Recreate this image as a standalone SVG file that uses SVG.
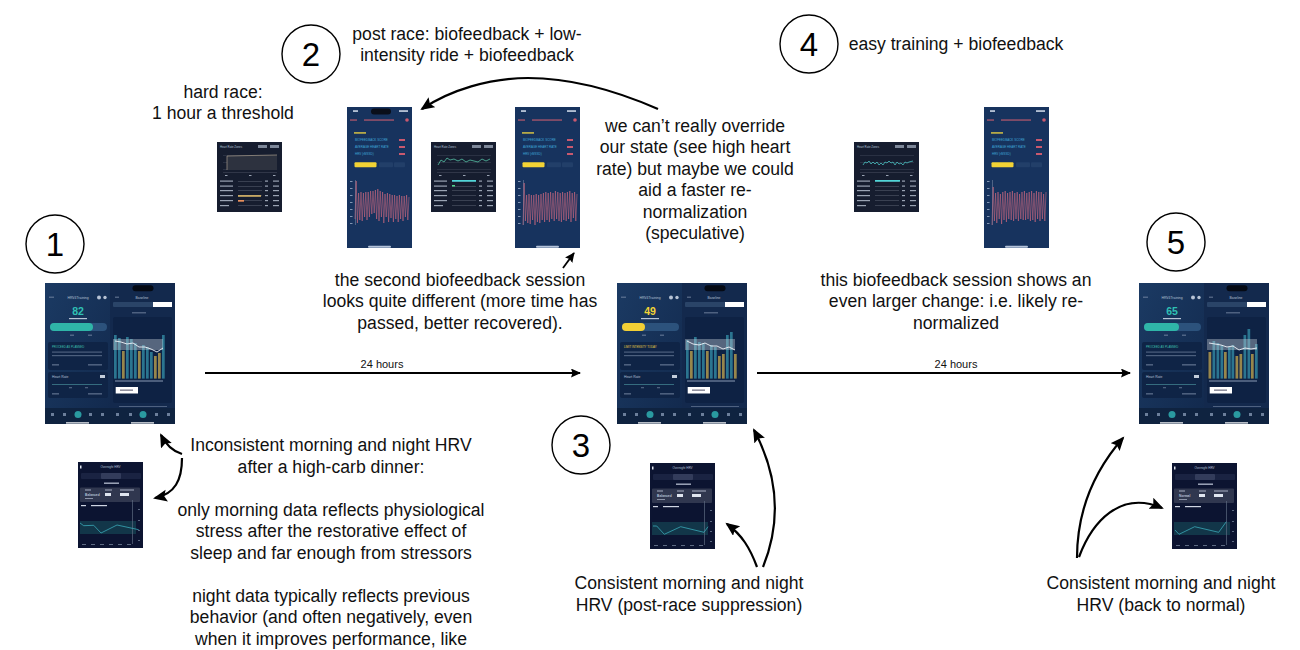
<svg xmlns="http://www.w3.org/2000/svg" width="1300" height="650" viewBox="0 0 1300 650">
<style>
text{font-family:"Liberation Sans",Arial,sans-serif}
.t{font-size:17.6px;fill:#111;text-anchor:middle}
.l{font-size:11px;fill:#111;text-anchor:middle}
.n{font-size:33px;fill:#000;text-anchor:middle}
.c{fill:#fff;stroke:#000;stroke-width:1.4}
.a{fill:none;stroke:#000;stroke-width:2.2;marker-end:url(#h)}
.a2{fill:none;stroke:#000;stroke-width:1.8;marker-end:url(#hs)}
.s{font-size:3.4px;fill:#b4c0d4}
.w{fill:none;stroke:#d0687f;stroke-width:.55;stroke-linejoin:round}
.g{fill:#7f90ab;opacity:.55}
.big{font-size:10.5px;font-weight:700;text-anchor:middle}
.te{fill:#2b7590}
.go{fill:#97864c}
</style>
<defs>
<marker id="h" markerUnits="userSpaceOnUse" markerWidth="16" markerHeight="14" refX="12" refY="6" orient="auto"><path d="M0 0L14 6L0 12L2.500 6z"/></marker>
<marker id="hs" markerUnits="userSpaceOnUse" markerWidth="12" markerHeight="10" refX="9" refY="4.500" orient="auto"><path d="M0 0L10 4.500L0 9L1.500 4.500z"/></marker>
<linearGradient id="dl" x1="0" y1="0" x2="1" y2="1"><stop offset="0" stop-color="#1b3a63"/><stop offset="1" stop-color="#12294d"/></linearGradient>
<g id="dash">
<rect width="130" height="141" fill="#142c52"/>
<rect width="65" height="141" fill="url(#dl)"/>
<rect x="65" width="65" height="141" fill="#13294d"/>
<rect x="4" y="13.500" width="5" height="1.500" class="g"/>
<text x="33" y="15.500" class="s" text-anchor="middle">HRV4Training</text>
<circle cx="54" cy="14.500" r="2" fill="#b8c4d6"/><circle cx="60" cy="14.500" r="1.700" fill="#b8c4d6"/>
<rect x="5" y="40" width="57" height="8" rx="4" fill="#2c527c"/>
<rect x="25" y="51.500" width="4" height="1.500" class="g"/><rect x="43" y="51.500" width="4" height="1.500" class="g"/>
<rect x="3" y="59" width="60" height="28" rx="2" fill="#0f2446"/>
<rect x="7" y="68.500" width="50" height="1.200" class="g"/><rect x="7" y="72" width="50" height="1.200" class="g"/>
<rect x="7" y="81" width="7" height="1.600" class="g"/><rect x="43" y="81" width="14" height="1.600" class="g"/>
<rect x="3" y="89" width="60" height="26" rx="2" fill="#0f2446"/>
<text x="7" y="95" class="s">Heart Rate</text>
<rect x="55" y="92" width="5" height="3" fill="#c3cddb"/>
<rect x="7" y="101" width="50" height=".8" fill="#3f7f8e"/>
<rect x="24" y="104" width="3" height="1.300" class="g"/><rect x="40" y="104" width="3" height="1.300" class="g"/>
<rect x="7" y="110" width="7" height="1.600" class="g"/><rect x="43" y="110" width="14" height="1.600" class="g"/>
<rect x="70" y="13.500" width="4" height="1.500" class="g"/>
<text x="97" y="15.500" class="s" text-anchor="middle">Baseline</text>
<rect x="68" y="19" width="59" height="5" rx="1" fill="#2a4468"/>
<rect x="108" y="19" width="19" height="5" fill="#fff"/>
<rect x="87" y="29" width="14" height="1.500" class="g"/>
<rect x="68" y="34" width="59" height="86" rx="2" fill="#0e2244"/>
<rect x="87.500" y="2.300" width="21" height="6" rx="3" fill="#050a14"/>
<rect x="70" y="97" width="48" height="2" class="g" opacity=".5"/>
<rect x="70.700" y="104" width="22.300" height="6.500" fill="#fff"/>
<rect x="75" y="106.500" width="13" height="1.300" fill="#778"/>
<rect x="74" y="123" width="48" height="1" class="g" opacity=".4"/>
<rect y="125" width="130" height="16" fill="#0f2340"/>
<g fill="#6c7f9b"><rect x="6" y="130" width="3" height="3"/><rect x="18" y="130" width="3" height="3"/><rect x="44" y="130" width="3" height="3"/><rect x="56" y="130" width="3" height="3"/><rect x="71" y="130" width="3" height="3"/><rect x="84" y="130" width="3" height="3"/><rect x="110" y="130" width="3" height="3"/><rect x="122" y="130" width="3" height="3"/></g>
<circle cx="33" cy="131.500" r="3.500" fill="#2a9aa0"/><circle cx="98" cy="131.500" r="3.500" fill="#2a9aa0"/>
<rect x="21" y="139.300" width="23" height="1.200" fill="#fff"/><rect x="86" y="139.300" width="23" height="1.200" fill="#fff"/>
</g>
<g id="bio">
<rect width="65" height="141" fill="#17335e"/>
<rect x="6" y="3.300" width="5" height="1.500" fill="#d8e0ee"/>
<rect x="52" y="3.300" width="9" height="1.500" fill="#d8e0ee"/>
<rect x="3" y="12.300" width="7" height="1.500" fill="#b9596e" opacity=".8"/>
<rect x="17" y="12.300" width="30" height="1.500" fill="#b9596e" opacity=".8"/>
<circle cx="60" cy="13" r="1.800" fill="#c9596f"/>
<rect x="7" y="25" width="12" height="1.800" fill="#b5a848"/>
<text x="8" y="34" class="s" style="font-size:3px;fill:#3fa7d8">BIOFEEDBACK SCORE</text>
<text x="8" y="41" class="s" style="font-size:3px;fill:#3fa7d8">AVERAGE HEART RATE</text>
<text x="8" y="48" class="s" style="font-size:3px;fill:#3fa7d8">HRV (rMSSD)</text>
<g fill="#c9596f"><rect x="52" y="32" width="6" height="2"/><rect x="52" y="39" width="6" height="2"/><rect x="52" y="46" width="6" height="2"/></g>
<rect x="7.500" y="55.300" width="22" height="5" rx="1" fill="#f2d335"/>
<rect x="32" y="55.300" width="14" height="5" rx="1" fill="#223f69"/><rect x="47" y="55.300" width="11" height="5" rx="1" fill="#223f69"/>
<g fill="#8396b3"><rect x="3" y="74" width="2.500" height="1"/><rect x="3" y="81" width="2.500" height="1"/><rect x="3" y="88" width="2.500" height="1"/><rect x="3" y="95" width="2.500" height="1"/><rect x="3" y="102" width="2.500" height="1"/><rect x="3" y="109" width="2.500" height="1"/><rect x="3" y="116" width="2.500" height="1"/></g>
<rect x="8" y="73" width=".6" height="45" fill="#7284a1"/>
<rect x="21" y="138.700" width="23" height="2" rx="1" fill="#b4c3da"/>
</g>
<g id="hr">
<rect width="65" height="70" fill="#161d2f"/>
<text x="3" y="6" class="s" style="font-size:2.800px">Heart Rate Zones</text>
<rect x="41" y="3" width="9" height="3" fill="#7d8799"/><rect x="53" y="3" width="9" height="3" fill="#7d8799"/>
<g fill="#4a5163"><rect x="6" y="13" width="54" height=".4"/><rect x="6" y="20" width="54" height=".4"/><rect x="6" y="27" width="54" height=".4"/><rect x="6" y="30" width="54" height=".5"/></g>
<g fill="#9aa3b3"><rect x="8" y="33" width="2.500" height="1"/><rect x="32" y="33" width="2.500" height="1"/><rect x="56" y="33" width="2.500" height="1"/></g>
<g fill="#5c6475"><rect x="21" y="39" width="24" height=".5"/><rect x="21" y="44" width="24" height=".5"/><rect x="21" y="48.500" width="24" height=".5"/><rect x="21" y="53.500" width="24" height=".5"/><rect x="21" y="58.500" width="24" height=".5"/><rect x="21" y="63.500" width="24" height=".5"/></g>
<g fill="#9aa3b3"><rect x="3" y="38.500" width="13" height="1.200"/><rect x="3" y="43.500" width="13" height="1.200"/><rect x="3" y="48" width="13" height="1.200"/><rect x="3" y="53" width="13" height="1.200"/><rect x="3" y="58" width="13" height="1.200"/><rect x="3" y="63" width="9" height="1.200"/>
<rect x="48" y="38.500" width="3" height="1.200"/><rect x="48" y="43.500" width="3" height="1.200"/><rect x="48" y="48" width="3" height="1.200"/><rect x="48" y="53" width="3" height="1.200"/><rect x="48" y="58" width="3" height="1.200"/><rect x="48" y="63" width="3" height="1.200"/>
<rect x="56" y="38.500" width="6" height="1.200"/><rect x="56" y="43.500" width="6" height="1.200"/><rect x="56" y="48" width="6" height="1.200"/><rect x="56" y="53" width="6" height="1.200"/><rect x="56" y="58" width="6" height="1.200"/><rect x="56" y="63" width="6" height="1.200"/></g>
</g>
<g id="ov">
<rect width="65" height="86" fill="#0c1431"/>
<text x="32.500" y="6" class="s" text-anchor="middle" style="font-size:3px">Overnight HRV</text>
<rect x="2" y="3.500" width="1.500" height="3" fill="#dfe5ef"/>
<rect x="3" y="11" width="60" height="6" rx="1" fill="#1a2342"/>
<rect x="23" y="11" width="20" height="6" rx="1" fill="#333c5b"/>
<rect x="26" y="20.500" width="15" height="1.400" fill="#a8b0c4"/>
<rect x="2" y="25.500" width="60" height="14.500" rx="1" fill="#30374f"/>
<rect x="7" y="27.500" width="6" height="1" fill="#a8b0c4"/><rect x="27" y="27.500" width="7" height="1" fill="#a8b0c4"/><rect x="42" y="27.500" width="14" height="1" fill="#a8b0c4"/>
<rect x="27" y="31" width="6" height="3" fill="#dfe5ef"/><rect x="42" y="31" width="9" height="3" fill="#dfe5ef"/>
<rect x="7" y="36" width="8" height="1" fill="#8b93a8"/>
<rect x="3" y="43" width="5" height="1.200" fill="#cfd5e2"/><rect x="13" y="43" width="16" height="1.200" fill="#cfd5e2"/>
<rect x="2" y="59" width="56" height="13" fill="#123649"/>
<rect x="54" y="38" width=".7" height="44" fill="#5d6a82"/>
<g fill="#5d6a82"><rect x="60" y="47" width="2" height="1"/><rect x="60" y="58" width="2" height="1"/><rect x="60" y="68" width="2" height="1"/><rect x="60" y="78" width="2" height="1"/>
<rect x="4" y="82" width="4" height="1"/><rect x="13" y="82" width="4" height="1"/><rect x="22" y="82" width="4" height="1"/><rect x="31" y="82" width="4" height="1"/><rect x="40" y="82" width="4" height="1"/><rect x="49" y="82" width="4" height="1"/></g>
</g>
</defs>
<rect width="1300" height="650" fill="#fff"/>

<g id="connectors">
<path class="a2" d="M205 373H580"/>
<path class="a2" d="M757 373H1130"/>
<path class="a" d="M658 109C610 88 565 78 528 78C490 78 450 90 422 109"/>
<path class="a2" d="M563 268L574 253"/>
<path class="a" d="M182 454C172 451 166 445 161 435"/>
<path class="a" d="M182 458C182 480 175 494 155 498"/>
<path class="a" d="M763 567C782 520 778 475 754 430"/>
<path class="a" d="M757 567C750 548 742 535 727 524"/>
<path class="a" d="M1077 558C1077 510 1095 470 1123 438"/>
<path class="a" d="M1079 557C1092 522 1120 490 1162 508"/>
<text class="l" x="382" y="368">24 hours</text>
<text class="l" x="956" y="368">24 hours</text>
</g>

<g id="node-1"><circle class="c" cx="55" cy="244" r="29"/><text class="n" x="55" y="256">1</text></g>
<g id="node-2"><circle class="c" cx="311" cy="54" r="29"/><text class="n" x="311" y="66">2</text></g>
<g id="node-3"><circle class="c" cx="581" cy="445" r="29"/><text class="n" x="581" y="457">3</text></g>
<g id="node-4"><circle class="c" cx="809" cy="44" r="29"/><text class="n" x="809" y="56">4</text></g>
<g id="node-5"><circle class="c" cx="1176" cy="242" r="29"/><text class="n" x="1176" y="254">5</text></g>

<g id="dash-1" transform="translate(45 283)">
<use href="#dash"/>
<text x="33" y="32" class="big" fill="#2fc0b4">82</text>
<rect x="24" y="35" width="18" height="1.200" fill="#b8c4d6"/>
<rect x="5" y="40" width="43" height="8" rx="4" fill="#2fb5a8"/>
<text x="7" y="65" class="s" style="font-size:2.800px;fill:#3fc0b0">PROCEED AS PLANNED</text>
<g class="te"><rect x="69" y="52" width="2.700" height="43.600"/><rect x="73" y="55" width="2.700" height="40.600"/><rect x="81" y="54" width="2.700" height="41.600"/><rect x="85" y="56" width="2.700" height="39.600"/><rect x="89" y="60" width="2.700" height="35.600"/><rect x="97" y="62" width="2.700" height="33.600"/><rect x="101" y="64" width="2.700" height="31.600"/><rect x="105" y="69" width="2.700" height="26.600"/><rect x="117" y="52" width="2.700" height="43.600"/></g>
<g class="go"><rect x="77" y="68" width="2.700" height="27.600"/><rect x="93" y="68" width="2.700" height="27.600"/><rect x="109" y="73" width="2.700" height="22.600"/><rect x="113" y="70" width="2.700" height="25.600"/></g>
<rect x="68" y="56" width="50" height="11" fill="#c4ccd6" opacity=".4"/>
<path d="M70 58L76 59L82 61L88 60L94 64L100 64L106 66L112 69L118 65" fill="none" stroke="#eef2f7" stroke-width=".9"/>
</g>

<g id="dash-3" transform="translate(617 283)">
<use href="#dash"/>
<text x="33" y="32" class="big" fill="#f2d335">49</text>
<rect x="24" y="35" width="18" height="1.200" fill="#b8c4d6"/>
<rect x="5" y="40" width="23" height="8" rx="4" fill="#f2cf35"/>
<text x="7" y="65" class="s" style="font-size:2.800px;fill:#e7cf45">LIMIT INTENSITY TODAY</text>
<g class="te"><rect x="69" y="57" width="2.700" height="38.600"/><rect x="77" y="54" width="2.700" height="41.600"/><rect x="81" y="59" width="2.700" height="36.600"/><rect x="85" y="60" width="2.700" height="35.600"/><rect x="93" y="62" width="2.700" height="33.600"/><rect x="97" y="64" width="2.700" height="31.600"/><rect x="109" y="52" width="2.700" height="43.600"/><rect x="113" y="49" width="2.700" height="46.600"/></g>
<g class="go"><rect x="73" y="68" width="2.700" height="27.600"/><rect x="89" y="68" width="2.700" height="27.600"/><rect x="101" y="73" width="2.700" height="22.600"/><rect x="105" y="71" width="2.700" height="24.600"/><rect x="117" y="71" width="2.700" height="24.600"/></g>
<rect x="68" y="56" width="50" height="11" fill="#c4ccd6" opacity=".4"/>
<path d="M70 58L76 61L82 62L88 60L94 63L100 63L106 66L112 64L118 67" fill="none" stroke="#eef2f7" stroke-width=".9"/>
</g>

<g id="dash-5" transform="translate(1139 283)">
<use href="#dash"/>
<text x="33" y="32" class="big" fill="#2fc0b4">65</text>
<rect x="24" y="35" width="18" height="1.200" fill="#b8c4d6"/>
<rect x="5" y="40" width="35" height="8" rx="4" fill="#2fb5a8"/>
<text x="7" y="65" class="s" style="font-size:2.800px;fill:#3fc0b0">PROCEED AS PLANNED</text>
<g class="go"><rect x="69.500" y="69" width="2.700" height="26.600"/><rect x="85" y="69" width="2.700" height="26.600"/><rect x="96.500" y="73" width="2.700" height="22.600"/><rect x="100.500" y="71" width="2.700" height="24.600"/><rect x="112" y="71" width="2.700" height="24.600"/></g>
<g class="te"><rect x="73.500" y="58" width="2.700" height="37.600"/><rect x="77.500" y="60" width="2.700" height="35.600"/><rect x="81.500" y="62" width="2.700" height="33.600"/><rect x="89" y="64" width="2.700" height="31.600"/><rect x="92.500" y="62" width="2.700" height="33.600"/><rect x="104.500" y="52" width="2.700" height="43.600"/><rect x="108.500" y="46" width="2.700" height="49.600"/><rect x="116" y="61" width="2.700" height="34.600"/></g>
<rect x="68" y="56" width="50" height="11" fill="#c4ccd6" opacity=".4"/>
<path d="M70 60L76 61L82 62L88 64L94 63L100 67L106 65L112 66L118 65" fill="none" stroke="#eef2f7" stroke-width=".9"/>
</g>

<g id="bio-a" transform="translate(347 107)">
<use href="#bio"/>
<rect x="24" y="1.500" width="20" height="6" rx="3" fill="#0a0f1a"/>
<path class="w" d="M8 112L9.200 74L10.400 116L11.600 86L12.800 113L14 85L15.200 114L16.400 86L17.600 110L18.800 85L20 113L21.200 85L22.400 110L23.600 84L24.800 107L26 84L27.200 106L28.400 83L29.600 112L30.800 82L32 114L33.200 84L34.400 110L35.600 85L36.800 116L38 87L39.200 110L40.400 86L41.600 115L42.800 87L44 111L45.200 88L46.400 115L47.600 88L48.800 112L50 89L51.200 115L52.400 88L53.600 112L54.800 89L56 114L57.200 89L58.400 110L59.600 88L60.800 113L62 90"/>
</g>
<g id="bio-b" transform="translate(515 107)">
<use href="#bio"/>
<path class="w" d="M8 118L9.200 76L10.400 114L11.600 88L12.800 116L14 87L15.200 117L16.400 88L17.600 113L18.800 88L20 118L21.200 87L22.400 115L23.600 88L24.800 116L26 87L27.200 113L28.400 86L29.600 115L30.800 85L32 113L33.200 86L34.400 115L35.600 85L36.800 112L38 86L39.200 114L40.400 84L41.600 112L42.800 85L44 114L45.200 86L46.400 115L47.600 85L48.800 113L50 86L51.200 114L52.400 85L53.600 112L54.800 84L56 115L57.200 86L58.400 111L59.600 85L60.800 114L62 87"/>
</g>
<g id="bio-c" transform="translate(984 107)">
<use href="#bio"/>
<path class="w" d="M8 118L9.200 80L10.400 114L11.600 86L12.800 116L14 85L15.200 112L16.400 87L17.600 117L18.800 85L20 113L21.200 84L22.400 115L23.600 86L24.800 112L26 85L27.200 113L28.400 84L29.600 114L30.800 86L32 112L33.200 85L34.400 114L35.600 87L36.800 112L38 85L39.200 113L40.400 84L41.600 113L42.800 86L44 112L45.200 85L46.400 114L47.600 84L48.800 113L50 86L51.200 115L52.400 84L53.600 112L54.800 85L56 114L57.200 85L58.400 112L59.600 87L60.800 114L62 85"/>
</g>

<g id="hr-a" transform="translate(217 142)">
<use href="#hr"/>
<path d="M10 28V14L60 13V28z" fill="#2d323f"/>
<path d="M10 28V14L60 13" fill="none" stroke="#a89c8c" stroke-width=".7"/>
<rect x="21" y="53.200" width="23" height="1.500" fill="#e9c26a"/>
<rect x="21" y="58" width="6" height="1.700" fill="#e78f5c"/>
</g>
<g id="hr-b" transform="translate(431 142)">
<use href="#hr"/>
<path d="M7 23L10 18L13 20L16 16L19 18L23 17L27 19L31 17L35 20L39 18L43 19L47 20L51 17L55 19L59 17" fill="none" stroke="#55c0a4" stroke-width=".8"/>
<rect x="21" y="38" width="24" height="1.700" fill="#4fd5d8"/>
<rect x="21" y="43" width="3" height="1.500" fill="#4fd58c"/>
</g>
<g id="hr-c" transform="translate(854 142)">
<use href="#hr"/>
<path d="M9 23L11 20L13 21L15 19L17 22L19 20L21 22L23 20L25 23L27 21L29 23L31 20L33 21L35 19L37 21L39 20L41 23L43 20L45 22L47 21L49 23L51 20L53 21L55 20L59 19" fill="none" stroke="#49bfc0" stroke-width=".8"/>
<rect x="21" y="38" width="25" height="1.700" fill="#4fd5d8"/>
</g>

<g id="ov-a" transform="translate(78 462)">
<use href="#ov"/>
<text x="7" y="34" class="s" style="font-size:3.300px;font-weight:700">Balanced</text>
<path d="M2 61L5.700 63.700L15.700 63.300L23 71L39 63L60.700 67.700" fill="none" stroke="#3aa8b8" stroke-width=".8"/>
</g>
<g id="ov-b" transform="translate(650 463)">
<use href="#ov"/>
<text x="7" y="34" class="s" style="font-size:3.300px;font-weight:700">Balanced</text>
<path d="M3 63L6.700 63L14.300 71.300L30.700 63.700L54 69.300L58 63.700" fill="none" stroke="#3aa8b8" stroke-width=".8"/>
</g>
<g id="ov-c" transform="translate(1172 463)">
<use href="#ov"/>
<text x="7" y="34" class="s" style="font-size:3.300px;font-weight:700">Normal</text>
<path d="M3 67L7 71.300L22.700 63.700L46.700 69.300L54.300 58.700" fill="none" stroke="#3aa8b8" stroke-width=".8"/>
</g>

<g id="labels">
<text class="t" x="467" y="40">post race: biofeedback + low-</text>
<text class="t" x="467" y="61">intensity ride + biofeedback</text>
<text class="t" x="223" y="98">hard race:</text>
<text class="t" x="223" y="119">1 hour a threshold</text>
<text class="t" x="956" y="50">easy training + biofeedback</text>
<text class="t" x="695" y="132">we can’t really override</text>
<text class="t" x="695" y="153">our state (see high heart</text>
<text class="t" x="695" y="175">rate) but maybe we could</text>
<text class="t" x="695" y="196">aid a faster re-</text>
<text class="t" x="695" y="218">normalization</text>
<text class="t" x="695" y="239">(speculative)</text>
<text class="t" x="460" y="286">the second biofeedback session</text>
<text class="t" x="460" y="307">looks quite different (more time has</text>
<text class="t" x="460" y="329">passed, better recovered).</text>
<text class="t" x="956" y="286">this biofeedback session shows an</text>
<text class="t" x="956" y="307">even larger change: i.e. likely re-</text>
<text class="t" x="956" y="329">normalized</text>
<text class="t" x="331" y="451">Inconsistent morning and night HRV</text>
<text class="t" x="331" y="473">after a high-carb dinner:</text>
<text class="t" x="331" y="516">only morning data reflects physiological</text>
<text class="t" x="331" y="537">stress after the restorative effect of</text>
<text class="t" x="331" y="559">sleep and far enough from stressors</text>
<text class="t" x="331" y="602">night data typically reflects previous</text>
<text class="t" x="331" y="623">behavior (and often negatively, even</text>
<text class="t" x="331" y="645">when it improves performance, like</text>
<text class="t" x="689" y="589">Consistent morning and night</text>
<text class="t" x="689" y="611">HRV (post-race suppression)</text>
<text class="t" x="1161" y="589">Consistent morning and night</text>
<text class="t" x="1161" y="611">HRV (back to normal)</text>
</g>
</svg>
